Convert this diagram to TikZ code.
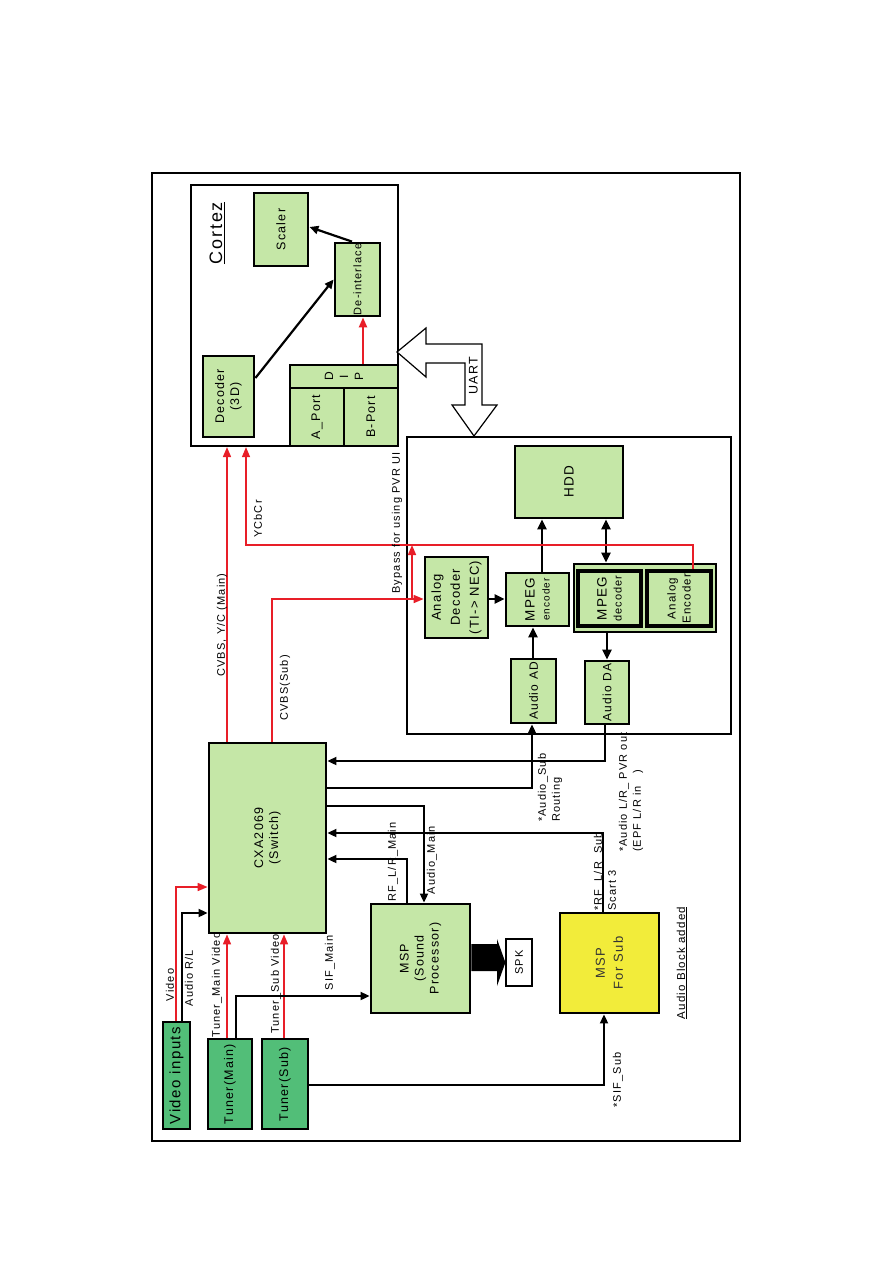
\documentclass[tikz,border=0pt]{standalone}
\usepackage{fontspec}
\setmainfont[LetterSpace=10]{Liberation Sans}
\usetikzlibrary{arrows.meta}
\definecolor{lg}{RGB}{197,231,167}
\definecolor{dg}{RGB}{82,190,120}
\definecolor{ye}{RGB}{242,236,58}
\definecolor{rd}{RGB}{232,30,40}
\begin{document}
\begin{tikzpicture}[x=1pt,y=-1pt,
 gbox/.style={draw, line width=2.8pt, fill=lg, inner sep=0pt},
 dbox/.style={gbox, fill=dg, line width=2pt},
 plain/.style={draw, line width=2.2pt, inner sep=0pt},
 txt/.style={rotate=90, inner sep=0pt, align=center, font=\fontsize{12.5}{15}\selectfont},
 lbl/.style={rotate=90, inner sep=0pt, align=left, font=\fontsize{11}{14}\selectfont},
 barr/.style={line width=1.8pt, -{Triangle[length=9pt,width=8pt]}},
 tarr/.style={line width=2.6pt, -{Triangle[length=10pt,width=9pt]}},
 rarr/.style={line width=1.6pt, draw=rd, -{Triangle[length=10pt,width=8pt]}}]
\useasboundingbox (0,0) rectangle (893,1263);
\fill[white] (0,0) rectangle (893,1263);
% outer frame
\draw[line width=2.2pt] (152,173) rectangle (740,1141);

% Cortez block
\node[plain, minimum width=207, minimum height=261] (cortez) at (294.5,315.5) {};
\node[txt, font=\fontsize{18}{20}\selectfont] (cortezt) at (217,233) {\underline{Cortez}};
\node[gbox, minimum width=54, minimum height=73] (scaler) at (281,229.5) {};
\node[txt] at (scaler) {Scaler};
\node[gbox, minimum width=45, minimum height=73] (deint) at (357.5,279.5) {};
\node[txt, font=\fontsize{11}{13}\selectfont] at (deint) {De-interlace};
\node[gbox, minimum width=51, minimum height=81] (dec3d) at (228.5,396.5) {};
\node[txt] at (dec3d) {Decoder\\(3D)};
\node[gbox, minimum width=108, minimum height=81] (dip) at (344,405.5) {};
\node[gbox, minimum width=54, minimum height=58] (aport) at (317,417) {};
\node[gbox, minimum width=54, minimum height=58] (bport) at (371,417) {};
\node[txt, font=\fontsize{12}{15}\selectfont] at (344,376.5) {D\\I\\P};
\node[txt] at (aport) {A\_Port};
\node[txt] at (bport) {B-Port};

% PVR block
\node[plain, minimum width=324, minimum height=297] (pvr) at (569,585.5) {};
\node[gbox, minimum width=108, minimum height=72] (hdd) at (569,482) {};
\node[txt, font=\fontsize{13.5}{16}\selectfont] at (hdd) {HDD};
\node[gbox, minimum width=63, minimum height=81] (adec) at (456.5,597.5) {};
\node[txt, font=\fontsize{13}{19}\selectfont] at (adec) {Analog\\Decoder\\(TI-> NEC)};
\node[gbox, minimum width=63, minimum height=53] (mpegenc) at (537.5,599.5) {};
\node[txt] at (mpegenc) {{\fontsize{13.5}{16}\selectfont MPEG}\\{\fontsize{10}{13}\selectfont encoder}};
\node[gbox, minimum width=142, minimum height=68] (grp) at (645,598) {};
\node[gbox, line width=3.2pt, minimum width=63, minimum height=55] (mpegdec) at (609.5,598.5) {};
\node[txt] at (mpegdec) {{\fontsize{13.5}{16}\selectfont MPEG}\\{\fontsize{11}{14}\selectfont decoder}};
\node[gbox, line width=3.2pt, minimum width=64, minimum height=55] (aenc) at (679,598.5) {};
\node[txt, font=\fontsize{11.5}{15}\selectfont] at (aenc) {Analog\\Encoder};
\node[gbox, minimum width=45, minimum height=64] (audioad) at (533.5,691) {};
\node[txt, font=\fontsize{12}{15}\selectfont] at (audioad) {Audio AD};
\node[gbox, minimum width=44, minimum height=63] (audioda) at (607,692.5) {};
\node[txt, font=\fontsize{12}{15}\selectfont] at (audioda) {Audio DA};

% lower blocks
\node[gbox, minimum width=117, minimum height=190] (cxa) at (267.5,838) {};
\node[txt] at (cxa) {CXA2069\\(Switch)};
\node[gbox, minimum width=99, minimum height=109] (msp) at (420.5,958.5) {};
\node[txt] at (msp) {MSP\\(Sound\\Processor)};
\node[gbox, fill=ye, minimum width=99, minimum height=100] (mspsub) at (609.5,963) {};
\node[txt, font=\fontsize{13}{18}\selectfont, text=black!80] at (mspsub) {MSP\\For Sub};
\node[draw, line width=1.2pt, fill=white, minimum width=26, minimum height=47, inner sep=0pt] (spk) at (519,962.5) {};
\node[txt, font=\fontsize{11}{13}\selectfont] at (spk) {SPK};
\node[dbox, minimum width=27, minimum height=107] (vin) at (176.5,1075.5) {};
\node[txt, font=\fontsize{15}{17}\selectfont] at (vin) {Video inputs};
\node[dbox, minimum width=44, minimum height=90] (tm) at (230,1084) {};
\node[txt, font=\fontsize{12.5}{16}\selectfont] at (tm) {Tuner(Main)};
\node[dbox, minimum width=46, minimum height=90] (ts) at (285,1084) {};
\node[txt, font=\fontsize{12.5}{16}\selectfont] at (ts) {Tuner(Sub)};

% UART double arrow
\draw[line width=1.2pt, fill=white] (397,352) -- (426,328) -- (426,344) -- (482,344) -- (482,405) -- (497,405) -- (474,436) -- (452,405) -- (465,405) -- (465,363) -- (426,363) -- (426,377) -- cycle;
\node[txt, font=\fontsize{12.5}{15}\selectfont] at (473.5,376) {UART};

% Cortez internal arrows
\draw[line width=2.2pt, -{Triangle[length=9pt,width=8pt]}] (dec3d.east |- 0,378) -- (deint.west);
\draw[line width=2.2pt, -{Triangle[length=9pt,width=8pt]}] (deint.north -| 352,0) -- (scaler.east |- 0,227);
\draw[rarr, line width=2.2pt] (dip.north -| 363,0) -- (deint.south -| 363,0);

% PVR internal arrows
\draw[tarr] (adec.east |- 0,599) -- (mpegenc.west |- 0,599);
\draw[tarr] (audioad.north -| 533,0) -- (mpegenc.south -| 533,0);
\draw[tarr] (mpegenc.north -| 542,0) -- (hdd.south -| 542,0);
\draw[tarr, {Triangle[length=10pt,width=9pt]}-{Triangle[length=10pt,width=9pt]}] (hdd.south -| 606,0) -- (grp.north -| 606,0);
\draw[tarr] (grp.south -| 607,0) -- (audioda.north -| 607,0);

% red video paths
\draw[rarr] (cxa.north -| 227,0) -- (cortez.south -| 227,0);
\draw[rarr] (cxa.north -| 272,0) |- (adec.west |- 0,599);
\draw[rarr, line width=1.4pt] (aenc.north -| 693,0) |- (246,545) -- (cortez.south -| 246,0);
\draw[rarr] (412,599) -- (412,545);
\draw[rarr] (vin.north -| 176,0) |- (cxa.west |- 0,887);
\draw[rarr] (tm.north -| 227,0) -- (cxa.south -| 227,0);
\draw[rarr] (ts.north -| 284,0) -- (cxa.south -| 284,0);

% black audio paths
\draw[barr] (vin.north -| 182,0) |- (cxa.west |- 0,913);
\draw[barr] (tm.north -| 236,0) |- (msp.west |- 0,996);
\draw[barr] (ts.east |- 0,1085) -| (mspsub.south -| 604,0);
\draw[barr] (audioda.south -| 605,0) |- (cxa.east |- 0,761);
\draw[barr] (cxa.east |- 0,788) -| (audioad.south -| 532,0);
\draw[barr] (cxa.east |- 0,806) -| (msp.north -| 424,0);
\draw[barr] (mspsub.north -| 603,0) |- (cxa.east |- 0,833);
\draw[barr] (msp.north -| 407,0) |- (cxa.east |- 0,859);

% speaker arrow
\fill (msp.east |- 0,944) -- (497,944) -- (497,939) -- (spk.west) -- (497,986) -- (497,971) -- (msp.east |- 0,971) -- cycle;

% labels
\node[lbl] at (222,625) {CVBS, Y/C (Main)};
\node[lbl] at (285,688) {CVBS(Sub)};
\node[lbl] at (258,519) {YCbCr};
\node[lbl] at (397,523) {Bypass for using PVR UI};
\node[lbl] at (170,985) {Video};
\node[lbl] at (189,978) {Audio R/L};
\node[lbl] at (217,985) {Tuner\_Main Video};
\node[lbl] at (276,984) {Tuner\_Sub Video};
\node[lbl] at (330,963) {SIF\_Main};
\node[lbl] at (393,862) {RF\_L/R\_Main};
\node[lbl] at (432,860) {Audio\_Main};
\node[lbl, anchor=west] at (550,822) {*Audio\_Sub\\Routing};
\node[lbl, anchor=west] at (631,852) {*Audio L/R\_ PVR out\\(EPF L/R in~~~)};
\node[lbl, anchor=west] at (605,911) {*RF\_L/R\_Sub\\Scart 3};
\node[lbl] at (618,1080) {*SIF\_Sub};
\node[lbl, font=\fontsize{11.5}{14}\selectfont] at (682,963) {\underline{Audio Block added}};
\end{tikzpicture}
\end{document}
